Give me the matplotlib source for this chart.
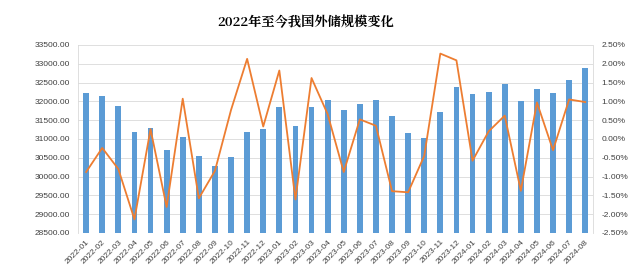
import matplotlib.pyplot as plt
import numpy as np

plt.rcParams['font.family'] = ['Liberation Sans', 'Noto Sans CJK SC', 'DejaVu Sans']

months = ['2022-01', '2022-02', '2022-03', '2022-04', '2022-05', '2022-06', '2022-07', '2022-08',
          '2022-09', '2022-10', '2022-11', '2022-12', '2023-01', '2023-02', '2023-03', '2023-04',
          '2023-05', '2023-06', '2023-07', '2023-08', '2023-09', '2023-10', '2023-11', '2023-12',
          '2024-01', '2024-02', '2024-03', '2024-04', '2024-05', '2024-06', '2024-07', '2024-08']
reserves = [32216, 32138, 31880, 31197, 31278, 30713, 31041, 30549,
            30290, 30524, 31175, 31277, 31845, 31332, 31839, 32048,
            31765, 31930, 32043, 31601, 31151, 31012, 31718, 32380,
            32193, 32258, 32457, 32008, 32320, 32224, 32564, 32882]
mom_pct = [-0.88, -0.24, -0.80, -2.14, 0.26, -1.81, 1.07, -1.58,
           -0.85, 0.77, 2.13, 0.33, 1.82, -1.61, 1.62, 0.66,
           -0.88, 0.52, 0.35, -1.39, -1.42, -0.45, 2.27, 2.09,
           -0.58, 0.20, 0.62, -1.38, 0.97, -0.30, 1.05, 0.98]

fig = plt.figure(figsize=(6.4, 2.74), dpi=100)
ax = fig.add_axes([0.122, 0.150, 0.805, 0.686])
x = np.arange(len(months))

ax.bar(x, reserves, width=0.36, color='#5B9BD5', zorder=2)
ax.set_ylim(28500, 33500)
ax.set_yticks(np.arange(28500, 33501, 500))
ax.set_yticklabels(['%.2f' % v for v in np.arange(28500, 33501, 500)], fontsize=6, color='#404040')
ax.set_xlim(-0.5, len(months) - 0.5)
ax.set_xticks(x)
ax.set_xticklabels(months, rotation=45, ha='right', rotation_mode='anchor', fontsize=6, color='#404040')
ax.grid(axis='y', color='#D9D9D9', linewidth=0.6, zorder=0)
ax.tick_params(axis='y', length=0, pad=6)
ax.tick_params(axis='x', length=0, pad=4)
for s in ['top', 'right', 'bottom']:
    ax.spines[s].set_visible(False)
ax.spines['left'].set_color('#D9D9D9')
ax.spines['left'].set_linewidth(0.6)

ax2 = ax.twinx()
ax2.plot(x, mom_pct, color='#ED7D31', linewidth=1.3, zorder=3)
ax2.set_ylim(-2.5, 2.5)
ax2.set_yticks(np.arange(-2.5, 2.51, 0.5))
ax2.set_yticklabels(['%.2f%%' % v for v in np.arange(-2.5, 2.51, 0.5)], fontsize=6, color='#404040')
ax2.tick_params(length=0, pad=6)
for s in ['top', 'left', 'bottom']:
    ax2.spines[s].set_visible(False)
ax2.spines['right'].set_color('#D9D9D9')
ax2.spines['right'].set_linewidth(0.6)

fig.text(0.477, 0.916, '2022年至今我国外储规模变化', ha='center', va='center',
         fontsize=9.5, fontweight='bold', family=['Noto Serif CJK SC', 'Noto Sans CJK SC'])

fig.savefig('out.png', dpi=100)
